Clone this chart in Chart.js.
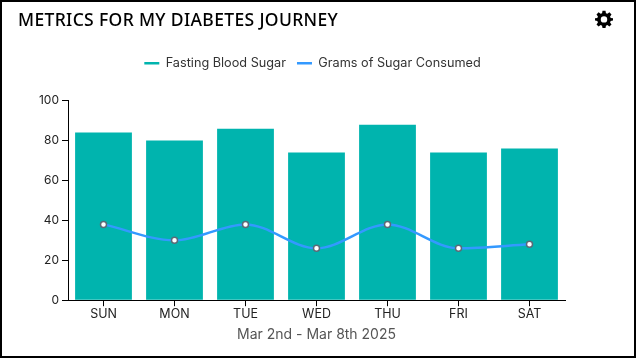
<!DOCTYPE html>
<html>
<head>
<meta charset="utf-8">
<script src="https://cdn.jsdelivr.net/npm/chart.js@4"></script>
<style>
  html, body { margin: 0; padding: 0; background: #fff; }
  #card { position: relative; width: 636px; height: 358px; box-sizing: border-box; overflow: hidden; }
  #card::after { content: ''; position: absolute; inset: 0; border: 2px solid #000; pointer-events: none; }
  #title { position: absolute; left: 18px; top: 7px; font: 500 17.5px 'Noto Sans', sans-serif; color: #000; letter-spacing: 0.35px; }
  #gear { position: absolute; left: 595px; top: 10px; width: 18px; height: 18px; }
  canvas { position: absolute; left: 0; top: 0; }
</style>
</head>
<body>
<div id="card">
  <canvas id="metricsChart" width="636" height="358"></canvas>
  <div id="title">METRICS FOR MY DIABETES JOURNEY</div>
  <svg id="gear" viewBox="0 0 24 24"><path fill="#000" fill-rule="evenodd" d="M10 1h4l.6 3.2 1.9.8 2.7-1.9 2.8 2.8-1.9 2.7.8 1.9L24 11v3l-3.1.6-.8 1.9 1.9 2.7-2.8 2.8-2.7-1.9-1.9.8L14 24h-4l-.6-3.1-1.9-.8-2.7 1.9-2.8-2.8 1.9-2.7-.8-1.9L0 14v-3l3.1-.5.8-1.9L2 5.9l2.8-2.8 2.7 1.9 1.9-.8zM12 8.2a4.3 4.3 0 1 0 0 8.6 4.3 4.3 0 0 0 0-8.6z"/></svg>
</div>
<script>
const days = ['SUN', 'MON', 'TUE', 'WED', 'THU', 'FRI', 'SAT'];
const fastingBloodSugar = [84, 80, 86, 74, 88, 74, 76];
const gramsOfSugar = [38, 30, 38, 26, 38, 26, 28];
const yTicks = [0, 20, 40, 60, 80, 100];
const dateRange = 'Mar 2nd - Mar 8th 2025';

const ctx = document.getElementById('metricsChart').getContext('2d');

// more room under the legend and keep it centred on the card, not on the plot
const legendPlacement = {
  id: 'legendPlacement',
  beforeInit(chart) {
    const fit = chart.legend.fit;
    chart.legend.fit = function () {
      fit.call(this);
      this.height += 21;
    };
  },
  afterLayout(chart) {
    chart.legend.left = 60;
  }
};

let metricsChart = new Chart(ctx, {
  data: {
    labels: days,
    datasets: [
      {
        type: 'bar',
        label: 'Fasting Blood Sugar',
        data: fastingBloodSugar,
        backgroundColor: '#00b4ae',
        barPercentage: 0.8,
        categoryPercentage: 1,
        order: 2
      },
      {
        type: 'line',
        label: 'Grams of Sugar Consumed',
        data: gramsOfSugar,
        borderColor: '#3399ff',
        backgroundColor: '#3399ff',
        borderWidth: 2.5,
        cubicInterpolationMode: 'monotone',
        pointRadius: 3,
        pointBorderWidth: 1.5,
        pointBackgroundColor: '#fff',
        pointBorderColor: '#5a6b78',
        order: 1
      }
    ]
  },
  plugins: [legendPlacement],
  options: {
    responsive: false,
    animation: false,
    layout: { padding: { top: 46, left: 0, right: 71, bottom: 15 } },
    plugins: {
      tooltip: { enabled: false },
      legend: {
        position: 'top',
        labels: {
          usePointStyle: true,
          pointStyleWidth: 15,
          boxHeight: 7,
          color: '#333',
          padding: 11,
          font: { family: 'Inter', size: 12.7 },
          sort: (a, b) => a.datasetIndex - b.datasetIndex,
          generateLabels: chart => chart.data.datasets.map((ds, i) => ({
            text: ds.label,
            datasetIndex: i,
            pointStyle: 'line',
            strokeStyle: ds.backgroundColor,
            fillStyle: ds.backgroundColor,
            fontColor: '#333',
            lineWidth: 2.5
          }))
        }
      }
    },
    scales: {
      x: {
        grid: { display: true, offset: false, drawOnChartArea: false, color: '#000', tickLength: 6 },
        border: { color: '#000' },
        ticks: { color: '#222', padding: 1, maxRotation: 0, font: { family: 'Inter', size: 12.5 } },
        title: { display: true, text: dateRange, color: '#555', padding: { top: 3, bottom: 0 }, font: { family: 'Inter', size: 14 } }
      },
      y: {
        min: 0,
        max: 100,
        afterBuildTicks: axis => { axis.ticks = yTicks.map(v => ({ value: v })); },
        afterFit: axis => { axis.width = 68; },
        grid: { display: true, drawOnChartArea: false, color: '#000', tickLength: 6 },
        border: { color: '#000' },
        ticks: { color: '#222', padding: 3, font: { family: 'Inter', size: 12 } }
      }
    }
  }
});
</script>
</body>
</html>
